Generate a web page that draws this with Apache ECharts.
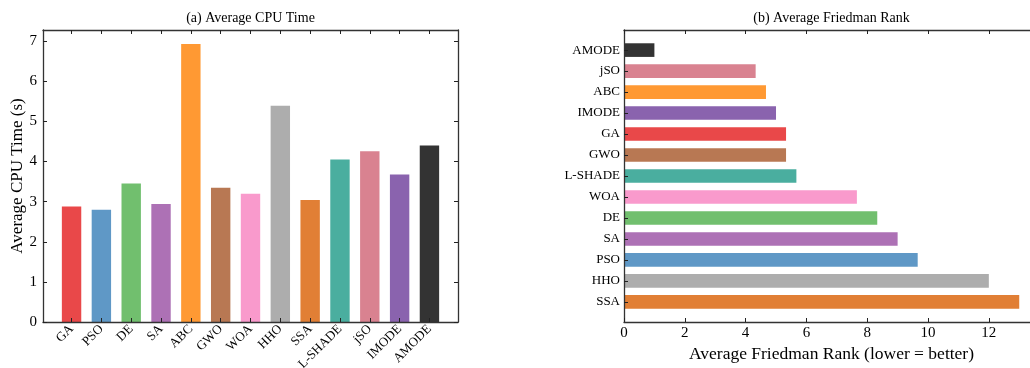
<!DOCTYPE html>
<html>
<head>
<meta charset="utf-8">
<script src="https://cdn.jsdelivr.net/npm/echarts@6/dist/echarts.min.js"></script>
<style>
  html, body { margin: 0; padding: 0; background: #fff; }
  #chart { width: 1030px; height: 368px; }
</style>
</head>
<body>
<div id="chart"></div>
<script>
// (a) 平均CPU时间
const cpuNames = ['GA', 'PSO', 'DE', 'SA', 'ABC', 'GWO', 'WOA', 'HHO', 'SSA', 'L-SHADE', 'jSO', 'IMODE', 'AMODE'];
const cpuTimes = [2.88, 2.80, 3.45, 2.94, 6.93, 3.35, 3.20, 5.39, 3.04, 4.05, 4.26, 3.68, 4.40];
const cpuTicks = [0, 1, 2, 3, 4, 5, 6, 7];

// (b) 平均Friedman排名 (从下到上)
const rankNames = ['SSA', 'HHO', 'PSO', 'SA', 'DE', 'WOA', 'L-SHADE', 'GWO', 'GA', 'IMODE', 'ABC', 'jSO', 'AMODE'];
const rankValues = [13.0, 12.0, 9.66, 9.0, 8.33, 7.66, 5.67, 5.33, 5.33, 5.0, 4.67, 4.33, 1.0];
const rankTicks = [0, 2, 4, 6, 8, 10, 12];

const algoColors = {
    'GA': '#E94849', 'PSO': '#5F98C6', 'DE': '#71BF6E', 'SA': '#AD71B5',
    'ABC': '#FF9933', 'GWO': '#B87853', 'WOA': '#F99ACC', 'HHO': '#ADADAD',
    'SSA': '#E17F35', 'L-SHADE': '#4AAE9F', 'jSO': '#D98290', 'IMODE': '#8A63AE',
    'AMODE': '#333333'
};

const FONT = 'Liberation Serif';
const idx = cpuNames.map((_, i) => i);
const catMin = -0.9575, catMax = 12.9575;

const lineStyle = { color: '#333', width: 1.3 };
const tickStyle = { show: true, inside: true, length: 4, lineStyle: { color: '#222', width: 1 } };

function frameAxis(extra) {
    return Object.assign({
        type: 'value',
        z: 5,
        splitLine: { show: false },
        axisLine: { show: true, onZero: false, lineStyle: lineStyle },
        axisLabel: { show: false },
        nameTextStyle: { fontFamily: FONT, color: '#000' }
    }, extra);
}

const chart = echarts.init(document.getElementById('chart'));
chart.setOption({
    animation: false,
    textStyle: { fontFamily: FONT },
    grid: [
        { left: 43, top: 30, width: 415, height: 292, outerBoundsMode: 'none' },
        { left: 624, top: 30, width: 415, height: 292, outerBoundsMode: 'none' }
    ],
    xAxis: [
        // 左图底部
        frameAxis({
            gridIndex: 0, position: 'bottom', min: catMin, max: catMax,
            axisTick: Object.assign({}, tickStyle, { customValues: idx }),
            axisLabel: {
                show: true, customValues: idx, rotate: 45, margin: 5,
                fontFamily: FONT, fontSize: 13, color: '#000',
                formatter: v => cpuNames[Math.round(v)]
            }
        }),
        // 左图顶部 + 标题
        frameAxis({
            gridIndex: 0, position: 'top', min: catMin, max: catMax,
            axisTick: Object.assign({}, tickStyle, { customValues: idx }),
            name: '(a) Average CPU Time', nameLocation: 'middle', nameGap: 5,
            nameTextStyle: { fontFamily: FONT, fontSize: 14, color: '#000' }
        }),
        // 右图底部
        frameAxis({
            gridIndex: 1, position: 'bottom', min: 0, max: 13.65,
            axisTick: Object.assign({}, tickStyle, { customValues: rankTicks }),
            axisLabel: {
                show: true, customValues: rankTicks, margin: 4,
                fontFamily: FONT, fontSize: 15, color: '#000'
            },
            name: 'Average Friedman Rank (lower = better)', nameLocation: 'middle', nameGap: 21,
            nameTextStyle: { fontFamily: FONT, fontSize: 17.5, color: '#000' }
        }),
        // 右图顶部 + 标题
        frameAxis({
            gridIndex: 1, position: 'top', min: 0, max: 13.65,
            axisTick: Object.assign({}, tickStyle, { customValues: rankTicks }),
            name: '(b) Average Friedman Rank', nameLocation: 'middle', nameGap: 5,
            nameTextStyle: { fontFamily: FONT, fontSize: 14, color: '#000' }
        })
    ],
    yAxis: [
        frameAxis({
            gridIndex: 0, position: 'left', min: 0, max: 7.28,
            axisTick: Object.assign({}, tickStyle, { customValues: cpuTicks }),
            axisLabel: {
                show: true, customValues: cpuTicks, margin: 6,
                fontFamily: FONT, fontSize: 15, color: '#000'
            },
            name: 'Average CPU Time (s)', nameLocation: 'middle', nameGap: 16,
            nameTextStyle: { fontFamily: FONT, fontSize: 17, color: '#000' }
        }),
        frameAxis({
            gridIndex: 0, position: 'right', min: 0, max: 7.28,
            axisTick: Object.assign({}, tickStyle, { customValues: cpuTicks })
        }),
        frameAxis({
            gridIndex: 1, position: 'left', min: catMin, max: catMax,
            axisTick: Object.assign({}, tickStyle, { customValues: idx }),
            axisLabel: {
                show: true, customValues: idx, margin: 4,
                fontFamily: FONT, fontSize: 13, color: '#000',
                formatter: v => rankNames[Math.round(v)]
            }
        })
    ],
    series: [
        {
            type: 'bar',
            xAxisIndex: 0, yAxisIndex: 0,
            barWidth: 19.4,
            data: cpuTimes.map((v, i) => ({
                value: [i, v],
                itemStyle: { color: algoColors[cpuNames[i]] }
            }))
        },
        {
            type: 'custom',
            xAxisIndex: 2, yAxisIndex: 2,
            encode: { x: 0, y: 1 },
            renderItem: function (params, api) {
                const v = api.value(0), y = api.value(1);
                const start = api.coord([0, y]);
                const end = api.coord([v, y]);
                const h = api.size([0, 0.65])[1];
                return {
                    type: 'rect',
                    shape: { x: start[0], y: start[1] - h / 2, width: end[0] - start[0], height: h },
                    style: { fill: api.visual('color') }
                };
            },
            data: rankValues.map((v, i) => ({
                value: [v, i],
                itemStyle: { color: algoColors[rankNames[i]] }
            }))
        }
    ]
});
</script>
</body>
</html>
